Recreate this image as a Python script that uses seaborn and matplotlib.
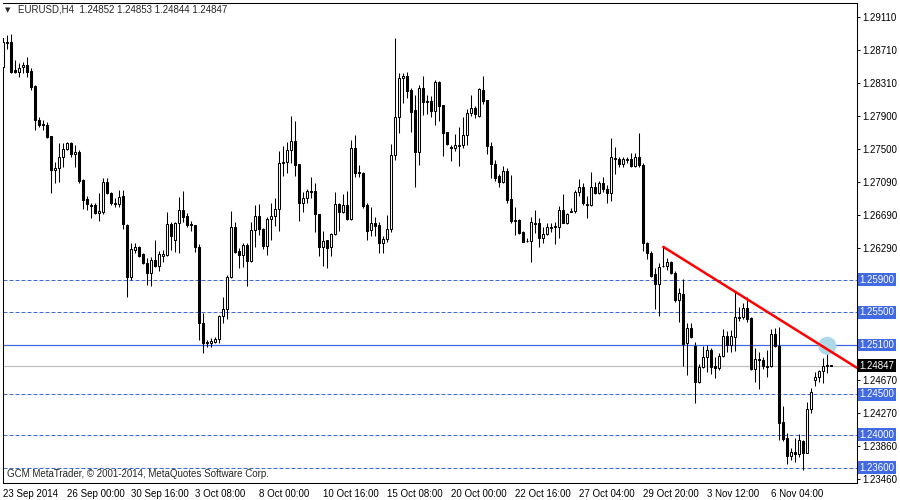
import matplotlib
matplotlib.use("Agg")
import matplotlib.pyplot as plt
import matplotlib.transforms as mtransforms
import numpy as np
import pandas as pd
import seaborn as sns

# EURUSD H4 candles
opens = [
    1.2850, 1.2879, 1.2881, 1.2846, 1.2844, 1.2850, 1.2853, 1.2845, 1.2827, 1.2785,
    1.2780, 1.2779, 1.2766, 1.2724, 1.2727, 1.2740, 1.2750, 1.2757, 1.2744, 1.2746,
    1.2712, 1.2689, 1.2681, 1.2681, 1.2672, 1.2673, 1.2709, 1.2696, 1.2683, 1.2683,
    1.2692, 1.2657, 1.2593, 1.2626, 1.2630, 1.2621, 1.2610, 1.2598, 1.2614, 1.2607,
    1.2619, 1.2620, 1.2658, 1.2638, 1.2659, 1.2675, 1.2668, 1.2658, 1.2657, 1.2630,
    1.2537, 1.2514, 1.2513, 1.2514, 1.2517, 1.2546, 1.2554, 1.2593, 1.2654, 1.2625,
    1.2620, 1.2632, 1.2613, 1.2651, 1.2668, 1.2652, 1.2631, 1.2664, 1.2668, 1.2676,
    1.2733, 1.2734, 1.2749, 1.2760, 1.2731, 1.2684, 1.2690, 1.2698, 1.2698, 1.2670,
    1.2630, 1.2638, 1.2630, 1.2646, 1.2683, 1.2673, 1.2681, 1.2664, 1.2751, 1.2722,
    1.2720, 1.2681, 1.2651, 1.2659, 1.2657, 1.2635, 1.2640, 1.2652, 1.2742, 1.2789,
    1.2837, 1.2839, 1.2822, 1.2797, 1.2746, 1.2824, 1.2808, 1.2808, 1.2796, 1.2832,
    1.2804, 1.2771, 1.2752, 1.2751, 1.2753, 1.2755, 1.2767, 1.2794, 1.2800, 1.2790,
    1.2822, 1.2810, 1.2753, 1.2731, 1.2717, 1.2709, 1.2723, 1.2689, 1.2662, 1.2663,
    1.2648, 1.2637, 1.2637, 1.2658, 1.2659, 1.2641, 1.2646, 1.2653, 1.2654, 1.2654,
    1.2675, 1.2659, 1.2673, 1.2674, 1.2697, 1.2703, 1.2683, 1.2681, 1.2703, 1.2696,
    1.2708, 1.2701, 1.2696, 1.2739, 1.2738, 1.2731, 1.2736, 1.2738, 1.2729, 1.2740,
    1.2730, 1.2635, 1.2623, 1.2597, 1.2585, 1.2607, 1.2607, 1.2612, 1.2598, 1.2565,
    1.2572, 1.2513, 1.2531, 1.2509, 1.2465, 1.2483, 1.2495, 1.2504, 1.2484, 1.2482,
    1.2497, 1.2521, 1.2510, 1.2520, 1.2543, 1.2544, 1.2555, 1.2543, 1.2481, 1.2493,
    1.2492, 1.2483, 1.2484, 1.2524, 1.2509, 1.2416, 1.2396, 1.2374, 1.2379, 1.2377,
    1.2393, 1.2378, 1.2432, 1.2467, 1.2471, 1.2478, 1.2484, 1.24852,
]
highs = [
    1.2884, 1.2889, 1.2890, 1.2859, 1.2855, 1.2856, 1.2862, 1.2849, 1.2828, 1.2789,
    1.2785, 1.2783, 1.2766, 1.2734, 1.2757, 1.2757, 1.2758, 1.2758, 1.2755, 1.2749,
    1.2713, 1.2692, 1.2684, 1.2684, 1.2696, 1.2714, 1.2714, 1.2697, 1.2690, 1.2700,
    1.2700, 1.2658, 1.2635, 1.2635, 1.2631, 1.2623, 1.2616, 1.2618, 1.2638, 1.2625,
    1.2626, 1.2673, 1.2660, 1.2660, 1.2691, 1.2698, 1.2672, 1.2662, 1.2657, 1.2634,
    1.2549, 1.2516, 1.2519, 1.2520, 1.2547, 1.2569, 1.2596, 1.2674, 1.2660, 1.2629,
    1.2635, 1.2635, 1.2660, 1.2681, 1.2683, 1.2653, 1.2667, 1.2684, 1.2690, 1.2747,
    1.2753, 1.2758, 1.2790, 1.2784, 1.2731, 1.2697, 1.2701, 1.2716, 1.2708, 1.2670,
    1.2649, 1.2638, 1.2647, 1.2697, 1.2684, 1.2695, 1.2698, 1.2761, 1.2767, 1.2730,
    1.2722, 1.2684, 1.2679, 1.2667, 1.2660, 1.2643, 1.2669, 1.2756, 1.2886, 1.2843,
    1.2843, 1.2844, 1.2824, 1.2816, 1.2828, 1.2839, 1.2816, 1.2815, 1.2834, 1.2833,
    1.2804, 1.2771, 1.2755, 1.2768, 1.2777, 1.2789, 1.2799, 1.2816, 1.2802, 1.2824,
    1.2839, 1.2810, 1.2758, 1.2736, 1.2719, 1.2729, 1.2727, 1.2718, 1.2679, 1.2664,
    1.2649, 1.2641, 1.2667, 1.2675, 1.2665, 1.2654, 1.2659, 1.2659, 1.2660, 1.2680,
    1.2695, 1.2672, 1.2678, 1.2700, 1.2713, 1.2708, 1.2692, 1.2722, 1.2709, 1.2711,
    1.2716, 1.2706, 1.2763, 1.2752, 1.2740, 1.2740, 1.2740, 1.2745, 1.2745, 1.2769,
    1.2733, 1.2636, 1.2625, 1.2604, 1.2610, 1.2630, 1.2616, 1.2613, 1.2601, 1.2580,
    1.2591, 1.2537, 1.2537, 1.2514, 1.2487, 1.2509, 1.2510, 1.2506, 1.2495, 1.2500,
    1.2530, 1.2527, 1.2528, 1.2575, 1.2557, 1.2561, 1.2569, 1.2544, 1.2506, 1.2502,
    1.2495, 1.2504, 1.2530, 1.2531, 1.2532, 1.2435, 1.2402, 1.2384, 1.2396, 1.2401,
    1.2394, 1.2440, 1.2457, 1.2477, 1.2479, 1.2494, 1.2509, 1.24853,
]
lows = [
    1.2840, 1.2872, 1.2843, 1.2843, 1.2838, 1.2843, 1.2838, 1.2822, 1.2773, 1.2777,
    1.2773, 1.2763, 1.2696, 1.2708, 1.2709, 1.2728, 1.2749, 1.2740, 1.2728, 1.2708,
    1.2676, 1.2675, 1.2665, 1.2670, 1.2662, 1.2670, 1.2695, 1.2681, 1.2679, 1.2679,
    1.2652, 1.2569, 1.2590, 1.2623, 1.2618, 1.2609, 1.2583, 1.2582, 1.2605, 1.2601,
    1.2612, 1.2619, 1.2626, 1.2624, 1.2623, 1.2660, 1.2654, 1.2649, 1.2624, 1.2516,
    1.2500, 1.2508, 1.2508, 1.2513, 1.2513, 1.2537, 1.2542, 1.2592, 1.2623, 1.2604,
    1.2605, 1.2582, 1.2612, 1.2630, 1.2645, 1.2627, 1.2620, 1.2638, 1.2656, 1.2649,
    1.2717, 1.2720, 1.2733, 1.2717, 1.2662, 1.2673, 1.2684, 1.2690, 1.2648, 1.2619,
    1.2607, 1.2604, 1.2619, 1.2645, 1.2649, 1.2672, 1.2663, 1.2663, 1.2716, 1.2716,
    1.2678, 1.2638, 1.2643, 1.2643, 1.2623, 1.2623, 1.2636, 1.2648, 1.2736, 1.2769,
    1.2806, 1.2812, 1.2771, 1.2703, 1.2730, 1.2791, 1.2793, 1.2789, 1.2779, 1.2784,
    1.2741, 1.2755, 1.2735, 1.2747, 1.2729, 1.2751, 1.2755, 1.2790, 1.2788, 1.2789,
    1.2805, 1.2744, 1.2714, 1.2711, 1.2703, 1.2708, 1.2684, 1.2659, 1.2645, 1.2646,
    1.2636, 1.2636, 1.2612, 1.2647, 1.2630, 1.2635, 1.2645, 1.2648, 1.2634, 1.2641,
    1.2659, 1.2658, 1.2673, 1.2672, 1.2692, 1.2681, 1.2665, 1.2680, 1.2695, 1.2695,
    1.2697, 1.2684, 1.2686, 1.2719, 1.2728, 1.2728, 1.2733, 1.2728, 1.2728, 1.2728,
    1.2625, 1.2615, 1.2593, 1.2554, 1.2546, 1.2605, 1.2602, 1.2597, 1.2563, 1.2538,
    1.2484, 1.2473, 1.2519, 1.2439, 1.2464, 1.2482, 1.2477, 1.2475, 1.2470, 1.2479,
    1.2495, 1.2502, 1.2502, 1.2503, 1.2539, 1.2542, 1.2538, 1.2479, 1.2465, 1.2456,
    1.2481, 1.2471, 1.2483, 1.2508, 1.2394, 1.2393, 1.2365, 1.2369, 1.2367, 1.2373,
    1.2357, 1.2378, 1.2427, 1.2460, 1.2465, 1.2464, 1.2476, 1.24844,
]
closes = [
    1.2881, 1.2881, 1.2844, 1.2844, 1.2849, 1.2853, 1.2844, 1.2826, 1.2785, 1.2779,
    1.2779, 1.2764, 1.2724, 1.2727, 1.2740, 1.2750, 1.2757, 1.2744, 1.2746, 1.2711,
    1.2687, 1.2683, 1.2680, 1.2672, 1.2674, 1.2709, 1.2696, 1.2684, 1.2684, 1.2691,
    1.2658, 1.2593, 1.2627, 1.2630, 1.2619, 1.2610, 1.2598, 1.2614, 1.2607, 1.2621,
    1.2621, 1.2658, 1.2643, 1.2659, 1.2675, 1.2667, 1.2657, 1.2657, 1.2630, 1.2537,
    1.2513, 1.2513, 1.2515, 1.2517, 1.2546, 1.2554, 1.2593, 1.2654, 1.2624, 1.2620,
    1.2632, 1.2613, 1.2651, 1.2668, 1.2652, 1.2631, 1.2664, 1.2668, 1.2676, 1.2733,
    1.2734, 1.2749, 1.2760, 1.2730, 1.2684, 1.2690, 1.2698, 1.2697, 1.2670, 1.2630,
    1.2637, 1.2629, 1.2646, 1.2683, 1.2673, 1.2681, 1.2664, 1.2751, 1.2720, 1.2720,
    1.2680, 1.2649, 1.2659, 1.2656, 1.2635, 1.2640, 1.2652, 1.2742, 1.2789, 1.2837,
    1.2839, 1.2821, 1.2795, 1.2746, 1.2824, 1.2807, 1.2807, 1.2796, 1.2832, 1.2802,
    1.2769, 1.2756, 1.2751, 1.2755, 1.2755, 1.2767, 1.2794, 1.2800, 1.2793, 1.2823,
    1.2808, 1.2753, 1.2731, 1.2714, 1.2709, 1.2723, 1.2687, 1.2662, 1.2663, 1.2647,
    1.2636, 1.2637, 1.2660, 1.2659, 1.2641, 1.2646, 1.2654, 1.2654, 1.2656, 1.2675,
    1.2659, 1.2670, 1.2674, 1.2697, 1.2703, 1.2684, 1.2681, 1.2703, 1.2696, 1.2708,
    1.2701, 1.2696, 1.2740, 1.2738, 1.2731, 1.2738, 1.2738, 1.2729, 1.2740, 1.2730,
    1.2635, 1.2623, 1.2594, 1.2585, 1.2605, 1.2606, 1.2612, 1.2598, 1.2565, 1.2574,
    1.2511, 1.2531, 1.2520, 1.2465, 1.2483, 1.2495, 1.2504, 1.2483, 1.2482, 1.2497,
    1.2521, 1.2510, 1.2521, 1.2544, 1.2544, 1.2555, 1.2542, 1.2481, 1.2493, 1.2492,
    1.2484, 1.2484, 1.2524, 1.2509, 1.2415, 1.2395, 1.2374, 1.2379, 1.2377, 1.2394,
    1.2378, 1.2432, 1.2453, 1.2471, 1.2478, 1.2484, 1.2485, 1.24847,
]

time_labels = ["23 Sep 2014", "26 Sep 00:00", "30 Sep 16:00", "3 Oct 08:00", "8 Oct 00:00",
               "10 Oct 16:00", "15 Oct 08:00", "20 Oct 00:00", "22 Oct 16:00", "27 Oct 04:00",
               "29 Oct 20:00", "3 Nov 12:00", "6 Nov 04:00"]
bars_per_label = 16

price_ticks = [1.29110, 1.28710, 1.28310, 1.27900, 1.27500, 1.27090, 1.26690, 1.26290,
               1.24670, 1.24270, 1.23860, 1.23460]
dashed_levels = [1.2590, 1.2550, 1.2450, 1.2400, 1.2360]
solid_level = 1.2510
last_price = 1.24847

trend_start, trend_anchor = 165, 183   # bars whose highs define the red trendline
touch_bar = 206                        # bar highlighted where price touched the line

header = "EURUSD,H4  1.24852 1.24853 1.24844 1.24847"
copyright_text = "GCM MetaTrader, \u00a9 2001-2014, MetaQuotes Software Corp."

level_blue = "#4169E1"

df = pd.DataFrame({"open": opens, "high": highs, "low": lows, "close": closes})
df["bar"] = np.arange(len(df))
df["up"] = df["close"] >= df["open"]

sns.set_style("white")
plt.rcParams["font.family"] = ["Liberation Sans", "DejaVu Sans"]
plt.rcParams["font.size"] = 7

W, H = 900, 500
fig = plt.figure(figsize=(9, 5), dpi=100)
ax = fig.add_axes([2.7 / W, 17.3 / H, 854.6 / W, 480 / H])

x_right = 213.5
ax.set_xlim(-0.15, x_right)
ax.set_ylim(1.23416, 1.29286)

# levels
for lvl in dashed_levels:
    ax.axhline(lvl, color=level_blue, lw=0.72, ls=(0, (4, 2)), zorder=1)
ax.axhline(solid_level, color=level_blue, lw=0.9, zorder=1)
ax.axhline(last_price, color="#C0C0C0", lw=0.9, zorder=1)

# candles
ax.vlines(df["bar"], df["low"], df["high"], color="black", lw=0.75, zorder=3)
ax.bar(df["bar"], df["close"] - df["open"], bottom=df["open"], width=0.5,
       color=np.where(df["up"], "white", "black"), edgecolor="black",
       linewidth=0.75, zorder=4)

# highlight circle and trendline
sns.scatterplot(x=[touch_bar], y=[highs[touch_bar]], s=170, color="#ADD8E6",
                edgecolor="none", zorder=5, ax=ax)
p0, p1 = highs[trend_start], highs[trend_anchor]
slope = (p1 - p0) / (trend_anchor - trend_start)
sns.lineplot(x=[trend_start, x_right], y=[p0, p0 + slope * (x_right - trend_start)],
             color="red", lw=1.8, zorder=6, ax=ax)

# axes styling
for side in ["top", "right", "bottom", "left"]:
    ax.spines[side].set_color("black")
    ax.spines[side].set_linewidth(0.75)
ax.spines["left"].set_bounds(1.23416, 1.2886)

ax.yaxis.tick_right()
ax.set_yticks(price_ticks)
ax.set_yticklabels([f"{v:.5f}" for v in price_ticks])
ax.tick_params(axis="y", length=2, width=0.7, pad=1.5, labelsize=7, colors="black")

xt = np.arange(len(time_labels)) * bars_per_label
ax.set_xticks(xt)
ax.set_xticklabels(time_labels)
for lbl in ax.get_xticklabels():
    lbl.set_ha("left")
ax.tick_params(axis="x", length=3, width=0.7, pad=1.5, labelsize=7, colors="black")

ax.set_xlabel("")
ax.set_ylabel("")
ax.grid(False)

# price boxes on the scale
trans = mtransforms.blended_transform_factory(ax.transAxes, ax.transData)
for lvl in dashed_levels + [solid_level]:
    ax.text(1.0025, lvl, f"{lvl:.5f}", transform=trans, color="white", fontsize=7,
            va="center", ha="left", clip_on=False,
            bbox=dict(boxstyle="square,pad=0.15", fc=level_blue, ec="none"))
ax.text(1.0025, last_price, f"{last_price:.5f}", transform=trans, color="white",
        fontsize=7, va="center", ha="left", clip_on=False,
        bbox=dict(boxstyle="square,pad=0.15", fc="black", ec="none"))

# header and copyright
fig.text(5 / W, 1 - 10 / H, "\u25bc", fontsize=5, va="center", family="DejaVu Sans")
fig.text(18 / W, 1 - 10 / H, header, fontsize=7, va="center")
fig.text(7 / W, 1 - 474 / H, copyright_text, fontsize=7, va="center")

fig.savefig("out.png", dpi=100)
